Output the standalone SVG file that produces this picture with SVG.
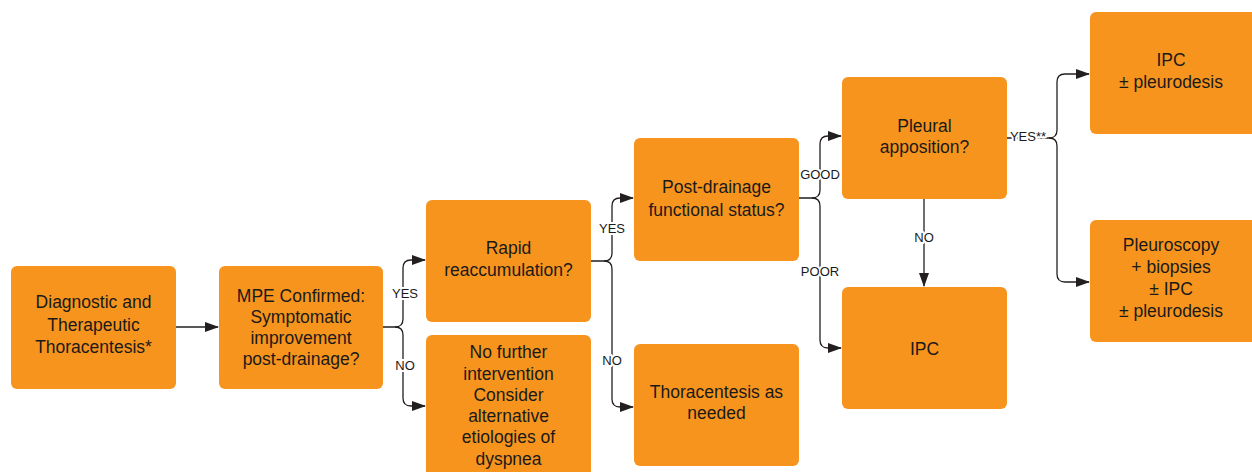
<svg xmlns="http://www.w3.org/2000/svg" width="1252" height="472" viewBox="0 0 1252 472">
<defs>
<style>
.box{fill:#F7941E;}
.t{font-family:"Liberation Sans",Arial,sans-serif;font-size:17.5px;fill:#1a1a1a;text-anchor:middle;}
.c{fill:none;stroke:#231f20;stroke-width:1.3;}
.lb{font-family:"Liberation Sans",Arial,sans-serif;font-size:13px;fill:#1a1a1a;text-anchor:middle;paint-order:stroke;stroke:#fff;stroke-width:4px;stroke-linejoin:round;}
</style>
<marker id="ah" markerUnits="userSpaceOnUse" markerWidth="14" markerHeight="10" refX="13" refY="5" orient="auto">
<path d="M0,0 L14,5 L0,10 Z" fill="#231f20"/>
</marker>
</defs>
<rect width="1252" height="472" fill="#fff"/>
<g id="connectors">
<path class="c" d="M176,327 H218" marker-end="url(#ah)"/>
<path class="c" d="M383,327 H395 Q403,327 403,319 V268 Q403,260 411,260 H425" marker-end="url(#ah)"/>
<path class="c" d="M395,327 Q403,327 403,335 V398 Q403,406 411,406 H425" marker-end="url(#ah)"/>
<path class="c" d="M591,261 H604 Q612,261 612,253 V206 Q612,198 620,198 H633" marker-end="url(#ah)"/>
<path class="c" d="M604,261 Q612,261 612,269 V399 Q612,407 620,407 H633" marker-end="url(#ah)"/>
<path class="c" d="M799,198 H812 Q820,198 820,190 V144 Q820,136 828,136 H841" marker-end="url(#ah)"/>
<path class="c" d="M812,198 Q820,198 820,206 V340 Q820,348 828,348 H841" marker-end="url(#ah)"/>
<path class="c" d="M924,199 V286" marker-end="url(#ah)"/>
<path class="c" d="M1007,138 H1049 Q1057,138 1057,130 V82 Q1057,74 1065,74 H1089" marker-end="url(#ah)"/>
<path class="c" d="M1049,138 Q1057,138 1057,146 V274 Q1057,282 1065,282 H1089" marker-end="url(#ah)"/>
<text class="lb" x="405" y="297.5">YES</text>
<text class="lb" x="405" y="369.5">NO</text>
<text class="lb" x="612" y="232.5">YES</text>
<text class="lb" x="612" y="364.5">NO</text>
<text class="lb" x="820" y="178.5">GOOD</text>
<text class="lb" x="820" y="275.5">POOR</text>
<text class="lb" x="924" y="241.5">NO</text>
<text class="lb" x="1028" y="140.5">YES**</text>
</g>
<g id="n1"><rect class="box" x="11" y="266" width="165" height="123" rx="6"/>
<text class="t" x="93.5" y="308">Diagnostic and</text><text class="t" x="93.5" y="331">Therapeutic</text><text class="t" x="93.5" y="353">Thoracentesis*</text></g>
<g id="n2"><rect class="box" x="219" y="266" width="164" height="123" rx="6"/>
<text class="t" x="301" y="302">MPE Confirmed:</text><text class="t" x="301" y="323">Symptomatic</text><text class="t" x="301" y="344">improvement</text><text class="t" x="301" y="365">post-drainage?</text></g>
<g id="n3"><rect class="box" x="426" y="200" width="165" height="122" rx="6"/>
<text class="t" x="508.5" y="254">Rapid</text><text class="t" x="508.5" y="276">reaccumulation?</text></g>
<g id="n4"><rect class="box" x="426" y="335" width="165" height="150" rx="6"/>
<text class="t" x="508.5" y="358">No further</text><text class="t" x="508.5" y="380">intervention</text><text class="t" x="508.5" y="401">Consider</text><text class="t" x="508.5" y="422">alternative</text><text class="t" x="508.5" y="443">etiologies of</text><text class="t" x="508.5" y="465">dyspnea</text></g>
<g id="n5"><rect class="box" x="634" y="138" width="165" height="123" rx="6"/>
<text class="t" x="716.5" y="193">Post-drainage</text><text class="t" x="716.5" y="216">functional status?</text></g>
<g id="n6"><rect class="box" x="634" y="344" width="165" height="122" rx="6"/>
<text class="t" x="716.5" y="398">Thoracentesis as</text><text class="t" x="716.5" y="419">needed</text></g>
<g id="n7"><rect class="box" x="842" y="77" width="165" height="122" rx="6"/>
<text class="t" x="924.5" y="132">Pleural</text><text class="t" x="924.5" y="153">apposition?</text></g>
<g id="n8"><rect class="box" x="842" y="287" width="165" height="122" rx="6"/>
<text class="t" x="924.5" y="355">IPC</text></g>
<g id="n9"><rect class="box" x="1090" y="12" width="170" height="122" rx="6"/>
<text class="t" x="1171" y="66">IPC</text><text class="t" x="1171" y="88">± pleurodesis</text></g>
<g id="n10"><rect class="box" x="1090" y="220" width="170" height="122" rx="6"/>
<text class="t" x="1171" y="251">Pleuroscopy</text><text class="t" x="1171" y="273">+ biopsies</text><text class="t" x="1171" y="295">± IPC</text><text class="t" x="1171" y="317">± pleurodesis</text></g>
</svg>
